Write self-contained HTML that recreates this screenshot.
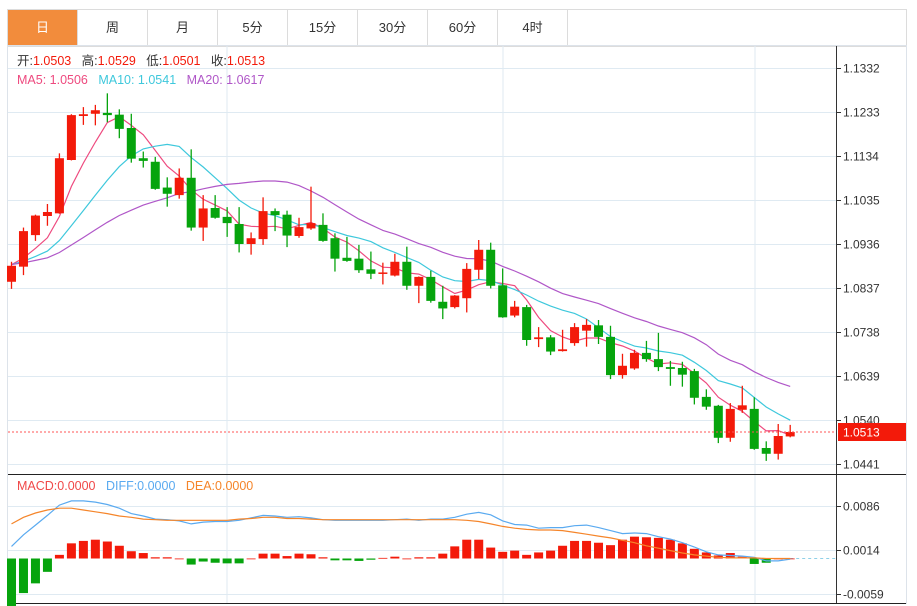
<!DOCTYPE html>
<html><head><meta charset="utf-8">
<style>
body{margin:0;background:#fff;width:917px;height:606px;overflow:hidden;font-family:"Liberation Sans","Noto Sans CJK SC",sans-serif;}
#hdr{position:absolute;left:7px;top:9px;width:898px;height:36px;border:1px solid #dcdcdc;}
#tabs{position:absolute;left:7px;top:9px;height:36px;display:flex;border:1px solid #dcdcdc;border-right:none;}
.tab{width:70px;height:36px;line-height:36px;text-align:center;font-size:13px;color:#333;border-right:1px solid #dcdcdc;box-sizing:border-box;}
.tab.on{background:#f28c3c;color:#fff;}
svg{position:absolute;left:0;top:0;}
</style></head><body>
<div id="hdr"></div>
<div id="tabs">
<div class="tab on">日</div>
<div class="tab">周</div>
<div class="tab">月</div>
<div class="tab">5分</div>
<div class="tab">15分</div>
<div class="tab">30分</div>
<div class="tab">60分</div>
<div class="tab">4时</div>
</div>
<svg id="c" width="917" height="606"></svg>
<script>
const opens=[1.0851,1.0885,1.0956,1.0999,1.1005,1.1125,1.1224,1.1229,1.1231,1.1227,1.1197,1.1129,1.1121,1.1063,1.1046,1.1085,1.0973,1.1017,1.0997,1.0981,1.0936,1.0947,1.1010,1.1002,1.0954,1.0971,1.0979,1.0949,1.0905,1.0903,1.0879,1.0869,1.0865,1.0896,1.0842,1.0862,1.0806,1.0794,1.0814,1.0878,1.0923,1.0843,1.0775,1.0794,1.0722,1.0726,1.0695,1.0713,1.0741,1.0753,1.0727,1.0641,1.0656,1.0691,1.0677,1.0659,1.0657,1.0650,1.0592,1.0572,1.0500,1.0563,1.0565,1.0477,1.0464,1.0503];
const closes=[1.0887,1.0965,1.1000,1.1008,1.1129,1.1226,1.1228,1.1237,1.1226,1.1195,1.1128,1.1123,1.1060,1.1049,1.1085,1.0973,1.1016,1.0995,1.0983,1.0936,1.0949,1.1010,1.1001,1.0955,1.0974,1.0983,1.0943,1.0903,1.0898,1.0877,1.0869,1.0872,1.0896,1.0842,1.0862,1.0808,1.0791,1.0820,1.0880,1.0923,1.0842,1.0771,1.0795,1.0720,1.0726,1.0694,1.0699,1.0749,1.0754,1.0727,1.0641,1.0662,1.0691,1.0677,1.0659,1.0655,1.0642,1.0590,1.0570,1.0500,1.0565,1.0573,1.0475,1.0464,1.0504,1.0513];
const highs=[1.0896,1.0973,1.1002,1.1026,1.1140,1.1228,1.1244,1.1249,1.1275,1.1239,1.1229,1.1144,1.1132,1.1086,1.1106,1.1149,1.1046,1.1046,1.1019,1.1019,1.0962,1.1041,1.1016,1.1011,1.0995,1.1065,1.1005,1.0960,1.0952,1.0934,1.0919,1.0894,1.0914,1.0930,1.0863,1.0876,1.0842,1.0821,1.0893,1.0945,1.0939,1.0881,1.0808,1.0799,1.0749,1.0731,1.0743,1.0758,1.0767,1.0765,1.0752,1.0689,1.0698,1.0718,1.0736,1.0673,1.0671,1.0655,1.0609,1.0574,1.0578,1.0617,1.0591,1.0492,1.0531,1.0529];
const lows=[1.0835,1.0866,1.0943,1.0977,1.1004,1.1124,1.1204,1.1203,1.1210,1.1174,1.1119,1.1108,1.1058,1.1020,1.1038,1.0966,1.0943,1.0993,1.0952,1.0917,1.0912,1.0934,1.0965,1.0929,1.0950,1.0968,1.0941,1.0874,1.0896,1.0871,1.0857,1.0845,1.0863,1.0833,1.0803,1.0804,1.0767,1.0791,1.0782,1.0857,1.0836,1.0770,1.0771,1.0707,1.0704,1.0686,1.0694,1.0707,1.0705,1.0711,1.0632,1.0633,1.0653,1.0671,1.0650,1.0617,1.0615,1.0575,1.0563,1.0488,1.0491,1.0556,1.0473,1.0448,1.0451,1.0501];
const priorCloses=[1.0890,1.0890,1.0890,1.0890,1.0890,1.0890,1.0890,1.0890,1.0890,1.0890,1.0890,1.0890,1.0890,1.0890,1.0890,1.0890,1.0890,1.0890,1.0890];
const macdHist=[-0.0116,-0.0057,-0.0041,-0.0022,0.0006,0.0025,0.0029,0.0031,0.0028,0.0021,0.0012,0.0009,0.0002,0.0002,0.0000,-0.0010,-0.0005,-0.0007,-0.0008,-0.0008,0.0000,0.0008,0.0008,0.0004,0.0008,0.0007,0.0002,-0.0003,-0.0003,-0.0004,-0.0002,0.0001,0.0003,0.0000,0.0002,0.0002,0.0008,0.0020,0.0031,0.0031,0.0018,0.0011,0.0013,0.0006,0.0010,0.0013,0.0021,0.0029,0.0029,0.0026,0.0022,0.0031,0.0036,0.0035,0.0034,0.0031,0.0025,0.0016,0.0010,0.0005,0.0009,0.0003,-0.0009,-0.0007,0.0000,0.0000];
const diffVals=[0.0020,0.0039,0.0055,0.0071,0.0088,0.0095,0.0095,0.0093,0.0089,0.0083,0.0074,0.0070,0.0065,0.0064,0.0062,0.0057,0.0060,0.0061,0.0061,0.0063,0.0067,0.0071,0.0070,0.0068,0.0069,0.0067,0.0064,0.0063,0.0063,0.0063,0.0063,0.0063,0.0064,0.0065,0.0063,0.0065,0.0065,0.0068,0.0073,0.0076,0.0072,0.0062,0.0056,0.0055,0.0050,0.0051,0.0051,0.0054,0.0055,0.0051,0.0046,0.0041,0.0042,0.0041,0.0036,0.0032,0.0026,0.0019,0.0011,0.0006,0.0005,0.0004,0.0002,-0.0004,-0.0004,-0.0001];
const deaVals=[0.0057,0.0068,0.0075,0.0080,0.0083,0.0083,0.0080,0.0077,0.0074,0.0070,0.0068,0.0065,0.0064,0.0063,0.0063,0.0063,0.0063,0.0063,0.0063,0.0065,0.0066,0.0068,0.0068,0.0066,0.0066,0.0065,0.0064,0.0064,0.0064,0.0064,0.0064,0.0064,0.0064,0.0064,0.0064,0.0064,0.0064,0.0064,0.0063,0.0061,0.0057,0.0053,0.0050,0.0048,0.0047,0.0047,0.0046,0.0043,0.0040,0.0037,0.0034,0.0030,0.0026,0.0021,0.0017,0.0013,0.0009,0.0006,0.0004,0.0002,0.0001,0.0001,0.0001,0.0000,0.0000,0.0000];
const priceTicks=[1.1332,1.1233,1.1134,1.1035,1.0936,1.0837,1.0738,1.0639,1.0540,1.0441];
const macdTicks=[0.0086,0.0014,-0.0059];
const lastPrice=1.0513;

const NS="http://www.w3.org/2000/svg";
const svg=document.getElementById('c');
const RED="#f31a0a",GREEN="#06a40d";
function X(i){return 11.5+i*11.98;}
function Y(p){return 68+(1.1332-p)*4444.4;}
function YM(v){return 558.5-v*6065;}
function mk(tag,attrs,parent){const e=document.createElementNS(NS,tag);for(const k in attrs)e.setAttribute(k,attrs[k]);(parent||svg).appendChild(e);return e;}

let e;
e=mk('rect',{x:7.5,y:45.5,width:899,height:558,fill:'none',stroke:'#dde3ea'});


[227,503,755].forEach(gx=>{e=mk('line',{x1:gx,x2:gx,y1:46,y2:603,stroke:'#dfeaf2'});

});
priceTicks.forEach(t=>{const y=Math.round(Y(t))+0.5;
e=mk('line',{x1:8,x2:837,y1:y,y2:y,stroke:'#dfeaf2'});


e=mk('line',{x1:837,x2:841,y1:y,y2:y,stroke:'#333'});


e=mk('text',{x:843,y:y+4,'font-size':12,fill:'#333'});e.textContent=t.toFixed(4);

});
macdTicks.forEach(t=>{const y=Math.round(YM(t))+0.5;
e=mk('line',{x1:8,x2:837,y1:y,y2:y,stroke:'#dfeaf2'});


e=mk('line',{x1:837,x2:841,y1:y,y2:y,stroke:'#333'});


e=mk('text',{x:843,y:y+4,'font-size':12,fill:'#333'});e.textContent=t.toFixed(4);

});
e=mk('line',{x1:836.5,x2:836.5,y1:46,y2:604,stroke:'#333'});


e=mk('line',{x1:8,x2:906,y1:474.5,y2:474.5,stroke:'#222'});


e=mk('line',{x1:8,x2:906,y1:603.5,y2:603.5,stroke:'#222'});



function ma(n){const all=priorCloses.concat(closes),off=priorCloses.length,out=[];
for(let i=0;i<closes.length;i++){let s=0;for(let k=0;k<n;k++)s+=all[off+i-k];out.push(s/n);}return out;}
[[5,'#ee4a7f','ma5-line'],[10,'#3ec8dc','ma10-line'],[20,'#b057c8','ma20-line']].forEach(([n,c,name])=>{
const v=ma(n);const pts=v.map((p,i)=>X(i).toFixed(1)+','+Y(p).toFixed(1)).join(' ');
e=mk('polyline',{points:pts,fill:'none',stroke:c,'stroke-width':1.2});

});

closes.forEach((c,i)=>{const o=opens[i],up=c>=o,col=up?RED:GREEN,x=X(i);
const g=mk('g',{});


mk('line',{x1:x,x2:x,y1:Y(highs[i]),y2:Y(lows[i]),stroke:col,'stroke-width':1.3},g);
const t=Y(Math.max(o,c)),b=Y(Math.min(o,c));
mk('rect',{x:x-4.5,y:t,width:9,height:Math.max(1.5,b-t),fill:col},g);});

const ly=Y(lastPrice);
e=mk('line',{x1:8,x2:836,y1:ly,y2:ly,stroke:'#f55','stroke-dasharray':'2,2'});


e=mk('rect',{x:838,y:ly-9,width:68,height:18,fill:'#f31a0a'});


e=mk('text',{x:843,y:ly+4.5,'font-size':12,fill:'#fff'});e.textContent=lastPrice.toFixed(4);



const z=YM(0);
e=mk('line',{x1:X(closes.length-1),x2:836,y1:z,y2:z,stroke:'#8fd0e8','stroke-dasharray':'3,3'});


macdHist.forEach((v,i)=>{const y=YM(v);
e=mk('rect',{x:X(i)-4.5,y:Math.min(y,z),width:9,height:Math.max(0.8,Math.abs(y-z)),fill:v>=0?RED:GREEN});

});
[[diffVals,'#5aaaf0','diff-line'],[deaVals,'#f5852a','dea-line']].forEach(([arr,c,name])=>{
const pts=arr.map((v,i)=>X(i).toFixed(1)+','+YM(v).toFixed(1)).join(' ');
e=mk('polyline',{points:pts,fill:'none',stroke:c,'stroke-width':1.2});

});

function txt(x,y,parts,name){const t=mk('text',{x:x,y:y,'font-size':12.5});


parts.forEach(([s,c])=>{const sp=mk('tspan',{fill:c},t);sp.textContent=s;});}
txt(17,65,[['开:','#333'],['1.0503   ','#f31a0a'],['高:','#333'],['1.0529   ','#f31a0a'],['低:','#333'],['1.0501   ','#f31a0a'],['收:','#333'],['1.0513','#f31a0a']],'ohlc-legend');
txt(17,84,[['MA5: 1.0506   ','#ee4a7f'],['MA10: 1.0541   ','#3ec8dc'],['MA20: 1.0617','#b057c8']],'ma-legend');
txt(17,490,[['MACD:0.0000   ','#f04848'],['DIFF:0.0000   ','#5aaaf0'],['DEA:0.0000','#f5852a']],'macd-legend');
svg.querySelectorAll('text').forEach(t=>t.setAttribute('style','white-space:pre'));
</script>
</body></html>
